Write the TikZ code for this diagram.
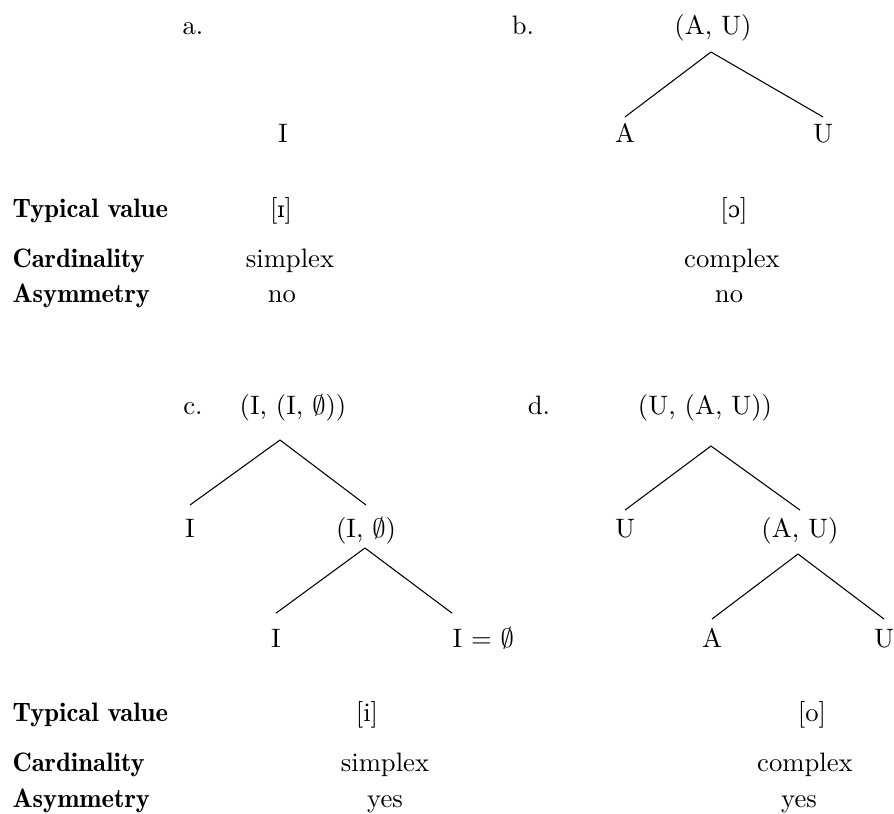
\documentclass[tikz,border=0pt]{standalone}
\usepackage{amsmath}
\usepackage{amssymb}
\usepackage{fontspec}
\newfontfamily\ipafont{DejaVu Serif}[Scale=MatchLowercase]
\usetikzlibrary{positioning}

\tikzset{
  rowlabel/.style={anchor=base west, inner sep=0pt, font=\fontseries{b}\selectfont},
  cell/.style={anchor=base, inner sep=0pt, text height=7pt},
  leaf/.style={cell, outer ysep=#1},
}

\begin{document}
\begin{tikzpicture}[x=0.375pt, y=-0.375pt]
  \useasboundingbox (0,0) rectangle (894,813);
  % a. single element
  \node[cell] (aLbl) at (193,34) {a.};
  \node[cell] (aI) at (283,142) {I};
  % b. (A, U)
  \node[cell] (bLbl) at (523,34) {b.};
  \node[cell] (bRoot) at (713,34) {(A, U)};
  \node[leaf=2.4pt] (bA) at (625,142) {A};
  \node[leaf=2.4pt] (bU) at (823,142) {U};
  \coordinate (bTop) at (711,52);
  \draw (bTop) -- (bA.north);
  \draw (bTop) -- (bU.north);
  % properties, upper row
  \node[rowlabel] (tvOne) at (12,217) {Typical value};
  \node[rowlabel] (cdOne) at (12,267) {Cardinality};
  \node[rowlabel] (asOne) at (12,302) {Asymmetry};
  \node[cell] (aVal) at (281,217) {[{\ipafont ɪ}]};
  \node[cell] (aCard) at (290,267) {simplex};
  \node[cell] (aAsym) at (282,302) {no};
  \node[cell] (bVal) at (734,217) {[{\ipafont ɔ}]};
  \node[cell] (bCard) at (732,267) {complex};
  \node[cell] (bAsym) at (729,302) {no};
  % c. (I, (I, 0))
  \node[cell] (cLbl) at (193,414) {c.};
  \node[cell] (cRoot) at (293,414) {(I, (I, $\emptyset$))};
  \coordinate (cTop) at (280,440);
  \node[leaf=5pt] (cI) at (190,537) {I};
  \node[leaf=5pt] (cIO) at (366,537) {(I, $\emptyset$)};
  \draw (cTop) -- (cI.north);
  \draw (cTop) -- (cIO.north);
  \coordinate (cMid) at (365,548);
  \node[leaf=5.7pt] (cII) at (276,647) {I};
  \node[leaf=5.7pt, anchor=base west] (cIeq) at (452,647) {I $=$ $\emptyset$};
  \draw (cMid) -- (cII.north);
  \draw (cMid) -- (cIeq.north west);
  % d. (U, (A, U))
  \node[cell] (dLbl) at (539,414) {d.};
  \node[cell] (dRoot) at (705,414) {(U, (A, U))};
  \coordinate (dTop) at (711,446);
  \node[leaf=3.1pt] (dU) at (625,537) {U};
  \node[leaf=3.1pt] (dAU) at (800,537) {(A, U)};
  \draw (dTop) -- (dU.north);
  \draw (dTop) -- (dAU.north);
  \coordinate (dMid) at (798,554);
  \node[leaf=3.5pt] (dA) at (712,647) {A};
  \node[leaf=3.5pt] (dUU) at (884,647) {U};
  \draw (dMid) -- (dA.north);
  \draw (dMid) -- (dUU.north);
  % properties, lower row
  \node[rowlabel] (tvTwo) at (12,721) {Typical value};
  \node[rowlabel] (cdTwo) at (12,771) {Cardinality};
  \node[rowlabel] (asTwo) at (12,807) {Asymmetry};
  \node[cell] (cVal) at (367,721) {[i]};
  \node[cell] (cCard) at (385,771) {simplex};
  \node[cell] (cAsym) at (385,807) {yes};
  \node[cell] (dVal) at (812,721) {[o]};
  \node[cell] (dCard) at (805,771) {complex};
  \node[cell] (dAsym) at (799,807) {yes};
\end{tikzpicture}
\end{document}
